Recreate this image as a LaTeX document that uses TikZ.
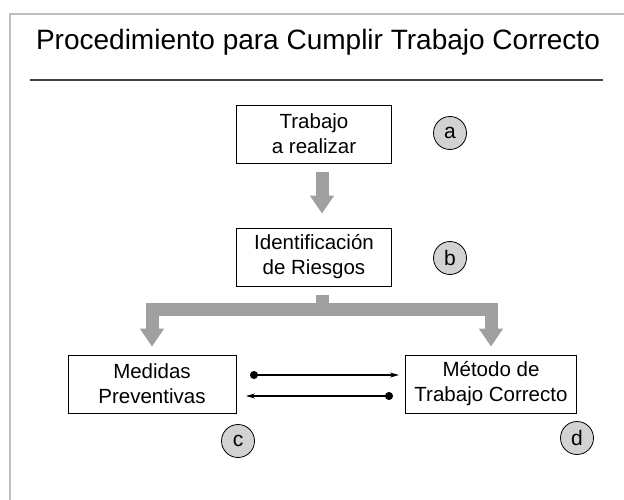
\documentclass[tikz,border=0pt]{standalone}
\usepackage{fontspec}
\setmainfont{Liberation Sans}
\usepackage{tikz}
\usetikzlibrary{arrows.meta}

\definecolor{flecha}{RGB}{160,160,160}
\definecolor{letra}{RGB}{210,210,210}

\begin{document}
\begin{tikzpicture}[x=1pt,y=-1pt,
    caja/.style={draw, thick, rectangle, minimum height=58pt, inner sep=2pt, align=center, font=\fontsize{20.5}{25}\selectfont},
    marca/.style={draw, thick, circle, fill=letra, minimum size=33pt, inner sep=0pt, font=\fontsize{21}{24}\selectfont},
    gruesa/.style={draw=flecha, line width=13pt, -{Triangle[length=18pt,width=23pt]}, shorten <=9pt, shorten >=8pt},
    fina/.style={{Circle[length=8pt]}-{Stealth[length=9pt,width=5pt]}, line width=1.1pt}]

  \useasboundingbox (0,0) rectangle (624,500);
  \draw[black!25, line width=2pt] (10,500) -- (10,14) -- (624,14);

  \node (titulo) at (318,42) {\fontsize{28}{32}\selectfont Procedimiento para Cumplir Trabajo Correcto};
  \draw[black!75, line width=1.2pt] (30,80) -- (603,80);

  \node[caja, minimum width=155pt] (trabajo) at (314,134) {Trabajo\\a realizar};
  \node[caja, minimum width=155pt] (riesgos) at (314,257) {Identificación\\de Riesgos};
  \node[caja, minimum width=168pt] (medidas) at (152,384) {Medidas\\Preventivas};
  \node[caja, minimum width=171pt] (metodo) at (491,384) {Método de\\Trabajo Correcto};

  \node[marca] (a) at (450,133) {a};
  \node[marca] (b) at (450,258) {b};
  \node[marca] (c) at (238,441) {c};
  \node[marca] (d) at (577,438) {d};

  \coordinate (reparto) at (322,309);
  \coordinate (ida) at (250,375);
  \coordinate (idafin) at (399,375);
  \coordinate (vuelta) at (393,396);
  \coordinate (vueltafin) at (246,396);

  \draw[gruesa, shorten >=14pt] ([xshift=8pt]trabajo.south) -- ([xshift=8pt]riesgos.north);
  \foreach \to in {medidas, metodo}
     \draw[gruesa, line join=miter] ([xshift=8pt]riesgos.south) -- (reparto) -| (\to.north);

  \draw[fina] (ida) -- (idafin);
  \draw[fina] (vuelta) -- (vueltafin);

\end{tikzpicture}
\end{document}
